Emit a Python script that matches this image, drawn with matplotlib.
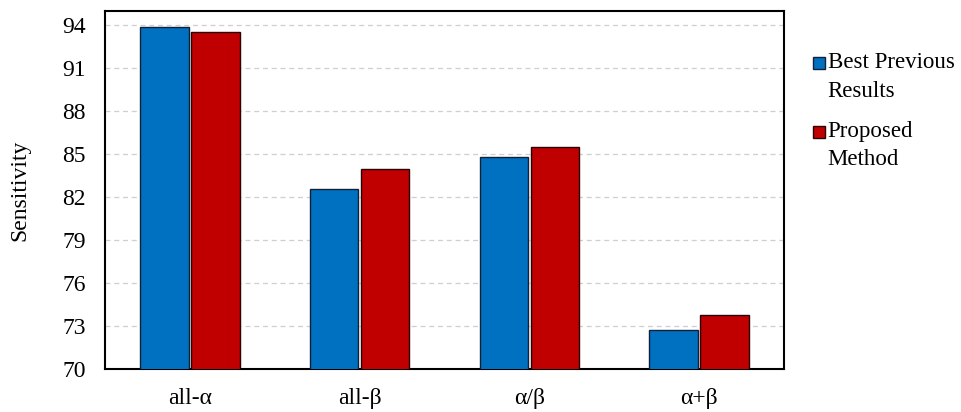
import matplotlib.pyplot as plt
from matplotlib.legend_handler import HandlerPatch, update_from_first_child
from matplotlib.container import BarContainer
from matplotlib.patches import Rectangle
import numpy as np

categories = ['all-α', 'all-β', 'α/β', 'α+β']
best_previous = [93.9, 82.6, 84.8, 72.7]
proposed = [93.5, 84.0, 85.5, 73.8]
yticks = [70, 73, 76, 79, 82, 85, 88, 91, 94]

plt.rcParams['font.family'] = ['Liberation Serif', 'DejaVu Serif']

fig = plt.figure(figsize=(9.61, 4.12), dpi=100)
ax = fig.add_axes([105 / 961, 1 - 369 / 412, 679 / 961, 358 / 412])

x = np.arange(len(categories))
w = 0.285
ax.bar(x - 0.15, best_previous, w, color='#0070C0', edgecolor='#14203a', linewidth=1,
       label='Best Previous\nResults', zorder=3)
ax.bar(x + 0.15, proposed, w, color='#C00000', edgecolor='#2a0000', linewidth=1,
       label='Proposed\nMethod', zorder=3)

ax.set_xlim(-0.5, 3.5)
ax.set_ylim(70, 95)
ax.set_yticks(yticks)
ax.set_xticks(x)
ax.set_xticklabels(categories)
ax.tick_params(axis='both', length=0, labelsize=17)
ax.tick_params(axis='x', pad=14)
ax.tick_params(axis='y', pad=14)
ax.yaxis.grid(True, linestyle=(0, (4, 3)), color='#cfcfcf', linewidth=0.9, zorder=0)
for s in ax.spines.values():
    s.set_linewidth(1.5)
    s.set_color('black')
ax.set_ylabel('Sensitivity', fontsize=17)
ax.yaxis.set_label_coords(-0.11, 0.5)


def top_square(legend, orig_handle, xdescent, ydescent, width, height, fontsize):
    s = 0.52 * fontsize
    return Rectangle((-xdescent + width - s, -ydescent + 11.5), s, s)


leg = ax.legend(loc='upper left', bbox_to_anchor=(1.028, 0.91), frameon=False, fontsize=16.5,
                handlelength=0.55, handleheight=0.7, handletextpad=0.12, labelspacing=0.85,
                borderaxespad=0,
                handler_map={BarContainer: HandlerPatch(patch_func=top_square,
                                                        update_func=update_from_first_child)})
for t in leg.get_texts():
    t.set_linespacing(1.45)

fig.savefig('out.png', dpi=100)
